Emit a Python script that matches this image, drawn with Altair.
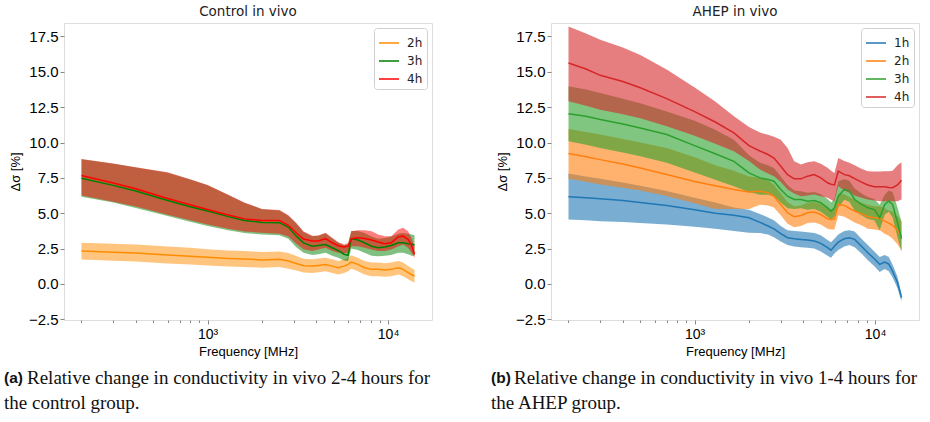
import altair as alt
import pandas as pd

# ---------------- data: left panel (Control in vivo) ----------------
freq_c = [200, 300, 400, 600, 800, 1000, 1300, 1600, 2000, 2500, 2800, 3100, 3400, 3800,
          4100, 4500, 4900, 5300, 5700, 6000, 6250, 6800, 7400, 8100, 8800, 9600, 10400,
          11400, 12100, 12900, 13500, 14000]

c2_mean = [2.32, 2.24, 2.18, 2.05, 1.96, 1.88, 1.80, 1.76, 1.70, 1.74, 1.62, 1.45, 1.28, 1.26,
           1.31, 1.38, 1.26, 1.15, 1.26, 1.38, 1.55, 1.38, 1.15, 1.03, 1.03, 0.98, 1.03,
           1.15, 1.03, 0.80, 0.65, 0.56]
c2_hi = [2.92, 2.84, 2.78, 2.65, 2.55, 2.45, 2.36, 2.32, 2.26, 2.30, 2.18, 1.98, 1.78, 1.74,
         1.79, 1.86, 1.74, 1.63, 1.74, 1.86, 2.03, 1.86, 1.63, 1.51, 1.51, 1.46, 1.51,
         1.63, 1.51, 1.27, 1.11, 1.01]
c2_lo = [1.72, 1.64, 1.58, 1.45, 1.37, 1.31, 1.24, 1.20, 1.15, 1.19, 1.08, 0.95, 0.80, 0.78,
         0.83, 0.90, 0.78, 0.67, 0.78, 0.90, 1.07, 0.90, 0.67, 0.55, 0.55, 0.50, 0.55,
         0.67, 0.55, 0.33, 0.19, 0.11]

c3_mean = [7.47, 6.97, 6.57, 5.90, 5.46, 5.15, 4.76, 4.48, 4.35, 4.33, 4.00, 3.38, 2.90, 2.67,
           2.72, 2.79, 2.56, 2.35, 2.10, 2.02, 3.20, 3.10, 2.91, 2.67, 2.56, 2.61, 2.72,
           2.91, 2.91, 2.84, 2.80, 2.75]
c3_hi = [8.82, 8.50, 8.23, 7.87, 7.38, 6.98, 6.29, 5.73, 5.28, 5.20, 4.83, 4.28, 3.68, 3.38,
         3.41, 3.58, 3.22, 2.92, 2.74, 2.80, 3.75, 3.75, 3.60, 3.35, 3.20, 3.25, 3.35,
         3.55, 3.60, 3.55, 3.50, 3.45]
c3_lo = [6.16, 5.75, 5.37, 4.80, 4.40, 4.10, 3.80, 3.60, 3.50, 3.45, 3.20, 2.60, 2.20, 2.05,
         2.10, 2.20, 2.00, 1.85, 1.65, 1.60, 2.50, 2.40, 2.20, 2.00, 1.95, 2.00, 2.05,
         2.20, 2.20, 2.10, 2.00, 2.00]

c4_mean = [7.66, 7.14, 6.73, 6.04, 5.60, 5.26, 4.87, 4.60, 4.49, 4.49, 4.15, 3.60, 3.18, 3.03,
           3.03, 3.20, 2.91, 2.70, 2.61, 2.67, 3.20, 3.27, 3.22, 3.10, 2.96, 2.84, 2.91,
           3.34, 3.38, 3.15, 2.70, 2.10]
c4_hi = [8.84, 8.52, 8.25, 7.89, 7.40, 7.00, 6.31, 5.75, 5.30, 5.22, 4.85, 4.30, 3.70, 3.40,
         3.43, 3.62, 3.27, 2.95, 2.79, 2.90, 3.73, 3.80, 3.80, 3.73, 3.50, 3.38, 3.38,
         3.85, 3.97, 3.73, 3.20, 2.67]
c4_lo = [6.25, 5.81, 5.47, 4.90, 4.50, 4.20, 3.91, 3.70, 3.62, 3.55, 3.35, 2.85, 2.45, 2.32,
         2.44, 2.56, 2.32, 2.21, 2.16, 2.20, 2.67, 2.67, 2.56, 2.44, 2.32, 2.32, 2.44,
         2.67, 2.79, 2.56, 2.20, 1.86]

# ---------------- data: right panel (AHEP in vivo) ----------------
freq_a = [200, 250, 300, 400, 500, 700, 1000, 1300, 1650, 2000, 2300, 2550, 2750, 3000,
          3270, 3560, 3880, 4220, 4600, 5000, 5450, 5700, 5950, 6250, 6750, 7200, 7700,
          8400, 9100, 9900, 10600, 11300, 11900, 12500, 13300, 14000]

a1_mean = [6.16, 6.10, 6.02, 5.90, 5.75, 5.55, 5.25, 5.00, 4.85, 4.68, 4.35, 4.10, 3.90, 3.55,
           3.27, 3.20, 3.15, 3.10, 3.03, 2.87, 2.56, 2.39, 2.67, 2.95, 3.20, 3.27, 3.15,
           2.67, 2.21, 1.78, 1.38, 1.55, 1.40, 0.90, 0.10, -0.97]
a1_hi = [7.80, 7.60, 7.43, 7.18, 6.95, 6.57, 6.10, 5.75, 5.40, 5.25, 4.95, 4.70, 4.50, 4.10,
         3.80, 3.75, 3.70, 3.65, 3.60, 3.45, 3.10, 2.95, 3.20, 3.50, 3.75, 3.80, 3.70,
         3.20, 2.75, 2.30, 1.90, 2.05, 1.90, 1.35, 0.50, -0.70]
a1_lo = [4.56, 4.50, 4.44, 4.38, 4.30, 4.20, 4.05, 3.90, 3.75, 3.62, 3.60, 3.50, 3.30, 3.00,
         2.75, 2.65, 2.60, 2.55, 2.50, 2.30, 2.00, 1.85, 2.15, 2.40, 2.65, 2.75, 2.60,
         2.15, 1.70, 1.25, 0.85, 1.05, 0.90, 0.45, -0.30, -1.25]

a2_mean = [9.22, 9.00, 8.79, 8.48, 8.20, 7.74, 7.25, 6.95, 6.68, 6.50, 6.56, 6.44, 6.20, 5.62,
           5.03, 4.75, 4.84, 5.03, 5.08, 4.91, 4.61, 4.55, 4.60, 5.62, 5.55, 5.35, 5.15,
           4.95, 4.75, 4.68, 4.65, 4.44, 4.30, 4.15, 3.80, 3.38]
a2_hi = [10.96, 10.75, 10.56, 10.25, 10.00, 9.62, 8.95, 8.40, 8.00, 7.60, 7.50, 7.35, 7.00, 6.40,
         5.80, 5.50, 5.55, 5.75, 5.80, 5.65, 5.35, 5.25, 5.35, 6.40, 6.35, 6.15, 5.95,
         5.75, 5.60, 5.50, 5.50, 5.35, 5.20, 5.10, 4.80, 4.40]
a2_lo = [7.43, 7.23, 7.03, 6.80, 6.60, 6.21, 5.70, 5.30, 5.30, 5.30, 5.60, 5.55, 5.40, 4.85,
         4.25, 4.00, 4.10, 4.30, 4.35, 4.20, 3.90, 3.85, 3.85, 4.85, 4.75, 4.55, 4.35,
         4.15, 3.90, 3.85, 3.80, 3.55, 3.40, 3.20, 2.80, 2.35]

a3_mean = [12.04, 11.85, 11.62, 11.31, 11.03, 10.57, 9.78, 9.20, 8.67, 7.85, 7.50, 7.38, 7.26, 6.68,
           6.20, 5.97, 5.97, 5.85, 5.90, 5.74, 5.38, 5.15, 5.38, 6.20, 6.68, 6.56, 5.97,
           5.62, 5.38, 5.26, 4.68, 5.62, 5.85, 5.62, 4.33, 3.20]
a3_hi = [13.97, 13.75, 13.50, 13.10, 12.77, 12.20, 11.53, 10.91, 10.20, 9.10, 8.56, 8.40, 8.20, 7.60,
         7.00, 6.60, 6.55, 6.45, 6.50, 6.35, 6.00, 5.75, 6.00, 7.26, 7.40, 7.30, 6.75,
         6.40, 6.15, 6.00, 5.60, 6.30, 6.60, 6.50, 5.40, 4.40]
a3_lo = [10.09, 9.85, 9.61, 9.30, 9.03, 8.57, 7.88, 7.37, 6.91, 6.50, 6.30, 6.30, 6.20, 5.75,
         5.35, 5.30, 5.35, 5.25, 5.30, 5.10, 4.75, 4.55, 4.75, 5.40, 5.95, 5.80, 5.20,
         4.85, 4.60, 4.50, 3.80, 4.90, 5.10, 4.70, 3.30, 2.30]

a4_mean = [15.62, 15.20, 14.75, 14.31, 13.87, 13.10, 12.18, 11.45, 10.68, 9.78, 9.40, 9.15, 8.90, 8.32,
           7.73, 7.43, 7.43, 7.62, 7.73, 7.50, 7.15, 7.05, 7.00, 7.97, 7.73, 7.65, 7.45,
           7.20, 7.00, 6.88, 6.87, 6.87, 6.82, 6.80, 7.00, 7.33]
a4_hi = [18.20, 17.70, 17.26, 16.71, 16.19, 15.16, 13.89, 12.90, 11.85, 11.10, 10.70, 10.55, 10.40, 10.20,
         9.62, 8.67, 8.44, 8.60, 8.67, 8.50, 8.21, 8.00, 7.85, 8.91, 8.70, 8.56, 8.40,
         8.15, 7.97, 7.95, 7.95, 7.97, 7.97, 8.00, 8.40, 8.60]
a4_lo = [12.91, 12.60, 12.32, 12.00, 11.71, 11.15, 10.47, 9.91, 9.38, 8.70, 8.10, 7.80, 7.62, 7.20,
         6.68, 6.40, 6.20, 6.25, 6.32, 6.20, 6.09, 5.95, 5.85, 6.91, 6.60, 6.45, 6.25,
         6.10, 5.97, 5.90, 5.85, 5.85, 5.85, 5.85, 5.85, 5.97]

series_c = ["2h", "3h", "4h"]
colors_c = ["#ff8c00", "#008000", "#ff0000"]
series_a = ["1h", "2h", "3h", "4h"]
colors_a = ["#1f77b4", "#ff7f0e", "#2ca02c", "#d62728"]

y_ticks = [-2.5, 0.0, 2.5, 5.0, 7.5, 10.0, 12.5, 15.0, 17.5]
x_major = [1000, 10000]
x_minor = [200, 300, 400, 500, 600, 700, 800, 900, 2000, 3000, 4000, 5000, 6000, 7000, 8000, 9000]

captions = {
    "left": ("(a)", "Relative change in conductivity in vivo 2-4 hours for", "the control group."),
    "right": ("(b)", "Relative change in conductivity in vivo 1-4 hours for", "the AHEP group."),
}


def long_frame(freq, names, means, his, los):
    rows = []
    for name, m, h, l in zip(names, means, his, los):
        for f, mv, hv, lv in zip(freq, m, h, l):
            rows.append({"f": f, "series": name, "mean": mv, "hi": hv, "lo": lv})
    return pd.DataFrame(rows)


df_c = long_frame(freq_c, series_c, [c2_mean, c3_mean, c4_mean], [c2_hi, c3_hi, c4_hi], [c2_lo, c3_lo, c4_lo])
df_a = long_frame(freq_a, series_a, [a1_mean, a2_mean, a3_mean, a4_mean],
                  [a1_hi, a2_hi, a3_hi, a4_hi], [a1_lo, a2_lo, a3_lo, a4_lo])

W, H = 368, 297
XDOM = [160, 17500]
YDOM = [-2.55, 18.45]

label_expr = "datum.value == 1000 ? '10\u00b3' : (datum.value == 10000 ? '10\u2074' : '')"


def make_x_axis():
    return alt.Axis(
        title="Frequency [MHz]",
        values=x_minor + x_major,
        labelExpr=label_expr,
        labelOverlap=False,
        labelFlush=False,
        tickSize={"condition": {"test": "datum.value == 1000 || datum.value == 10000", "value": 4}, "value": 2.5},
        grid=False,
        domain=False,
        labelFontSize=14,
        titleFontSize=13,
        titleFontWeight="normal",
        labelPadding=3,
        titlePadding=4,
    )


def make_y_axis():
    return alt.Axis(
        title="\u0394\u03c3 [%]",
        values=y_ticks,
        format=".1f",
        labelOverlap=False,
        labelFlush=False,
        grid=False,
        domain=False,
        tickSize=4,
        labelFontSize=15,
        titleFontSize=13,
        titleFontWeight="normal",
        labelPadding=2,
        titlePadding=6,
    )


def panel(df, names, colors, title, cap, fill_opacity):
    x_scale = alt.Scale(type="log", domain=XDOM, nice=False)
    y_scale = alt.Scale(domain=YDOM, nice=False, zero=False)
    layers = []
    for name, col in zip(names, colors):
        layers.append(
            alt.Chart(df).transform_filter(alt.datum.series == name)
            .mark_area(color=col, fillOpacity=fill_opacity, strokeWidth=0)
            .encode(
                x=alt.X("f:Q", scale=x_scale, axis=make_x_axis()),
                y=alt.Y("lo:Q", scale=y_scale, axis=make_y_axis(), stack=None),
                y2="hi:Q",
            )
        )
    lines = alt.Chart(df).mark_line(strokeWidth=1.5).encode(
        x=alt.X("f:Q", scale=x_scale, axis=make_x_axis()),
        y=alt.Y("mean:Q", scale=y_scale, axis=make_y_axis()),
        stroke=alt.Stroke(
            "series:N",
            scale=alt.Scale(domain=names, range=colors),
            legend=alt.Legend(
                title=None,
                orient="top-right",
                offset=5,
                symbolType="stroke",
                symbolSize=400,
                symbolStrokeWidth=1.5,
                labelFontSize=12,
                labelFont="DejaVu Sans",
                labelColor="#222",
                rowPadding=1,
                padding=4,
                strokeColor="#d0d0d0",
                fillColor="white",
                cornerRadius=3,
                labelOffset=7,
            ),
        ),
    )
    layers.append(lines)
    bold_df = pd.DataFrame({"t": [cap[0]]})
    line1_df = pd.DataFrame({"t": [cap[1]]})
    line2_df = pd.DataFrame({"t": [cap[2]]})
    layers.append(alt.Chart(bold_df).mark_text(
        align="left", baseline="middle", font="Liberation Sans", fontWeight="bold", fontSize=15.5, color="#111"
    ).encode(x=alt.value(-60), y=alt.value(355), text="t:N"))
    layers.append(alt.Chart(line1_df).mark_text(
        align="left", baseline="middle", font="Liberation Serif", fontSize=19, color="#111"
    ).encode(x=alt.value(-37), y=alt.value(355), text="t:N"))
    layers.append(alt.Chart(line2_df).mark_text(
        align="left", baseline="middle", font="Liberation Serif", fontSize=19, color="#111"
    ).encode(x=alt.value(-60), y=alt.value(380), text="t:N"))
    return alt.layer(*layers).properties(
        width=W, height=H,
        title=alt.TitleParams(title, fontSize=13.5, fontWeight="normal", font="DejaVu Sans",
                              color="#222", offset=5, anchor="middle"),
    )


left = panel(df_c, series_c, colors_c, "Control in vivo", captions["left"], 0.5)
right = panel(df_a, series_a, colors_a, "AHEP in vivo", captions["right"], 0.6)

chart = alt.hconcat(left, right, spacing=119, bounds="flush").resolve_scale(
    stroke="independent"
).resolve_legend(stroke="independent").properties(
    padding={"left": 3, "top": 4, "right": 5, "bottom": 5}
).configure_view(
    stroke="#333", strokeWidth=1
).configure_axis(
    labelFont="DejaVu Sans", titleFont="DejaVu Sans", labelColor="#222", titleColor="#222",
    tickColor="#222"
).configure(background="white")

chart.save("out.html", embed_options={"renderer": "svg", "actions": False})
